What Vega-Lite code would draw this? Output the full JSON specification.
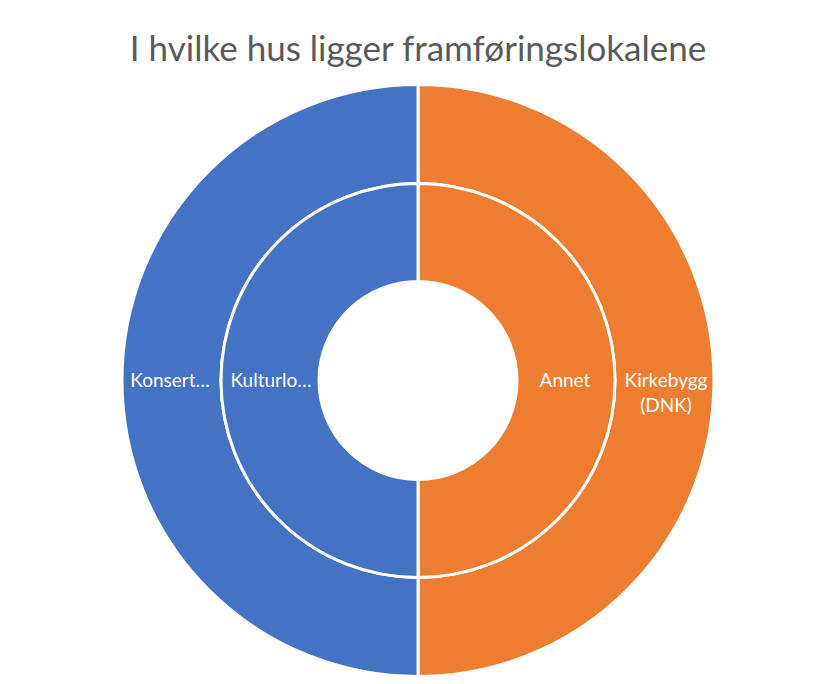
{
  "$schema": "https://vega.github.io/schema/vega-lite/v6.json",
  "autosize": {"type": "fit", "contains": "padding"},
  "width": 821,
  "height": 684,
  "padding": {"left": 15, "right": 0, "top": 33, "bottom": 0},
  "background": "white",
  "title": {
    "text": "I hvilke hus ligger framføringslokalene",
    "font": "Lato",
    "fontSize": 35,
    "fontWeight": "normal",
    "color": "#595959",
    "anchor": "middle",
    "offset": 9
  },
  "data": {
    "values": [
      {"ring": "outer", "label": "Kirkebygg\n(DNK)", "value": 50, "order": 1, "color": "orange"},
      {"ring": "outer", "label": "Konsert…", "value": 50, "order": 2, "color": "blue"},
      {"ring": "inner", "label": "Annet", "value": 50, "order": 1, "color": "orange"},
      {"ring": "inner", "label": "Kulturlo…", "value": 50, "order": 2, "color": "blue"}
    ]
  },
  "encoding": {
    "theta": {"field": "value", "type": "quantitative", "stack": true},
    "order": {"field": "order", "type": "quantitative"},
    "color": {
      "field": "color",
      "type": "nominal",
      "scale": {"domain": ["blue", "orange"], "range": ["#4472C4", "#ED7D31"]},
      "legend": null
    }
  },
  "layer": [
    {
      "transform": [{"filter": "datum.ring === 'outer'"}],
      "mark": {"type": "arc", "outerRadius": 296, "innerRadius": 197, "stroke": "white", "strokeWidth": 3}
    },
    {
      "transform": [{"filter": "datum.ring === 'inner'"}],
      "mark": {"type": "arc", "outerRadius": 197, "innerRadius": 99, "stroke": "white", "strokeWidth": 3}
    },
    {
      "transform": [{"filter": "datum.ring === 'outer'"}],
      "mark": {"type": "text", "radius": 248, "font": "Lato", "fontSize": 19, "fill": "white", "lineBreak": "\n", "lineHeight": 25, "align": "center", "baseline": "middle"},
      "encoding": {"text": {"field": "label"}, "color": {"value": "white"}}
    },
    {
      "transform": [{"filter": "datum.ring === 'inner'"}],
      "mark": {"type": "text", "radius": 147, "font": "Lato", "fontSize": 19, "fill": "white", "align": "center", "baseline": "middle"},
      "encoding": {"text": {"field": "label"}, "color": {"value": "white"}}
    }
  ],
  "config": {"view": {"stroke": null}}
}
